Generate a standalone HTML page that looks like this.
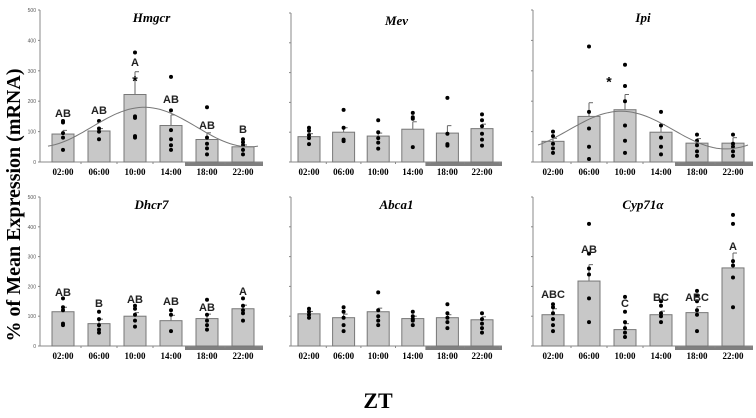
<!DOCTYPE html>
<html><head><meta charset="utf-8"><style>
body{margin:0;background:#fff}svg{display:block}
</style></head><body>
<svg id="c" width="756" height="418" xmlns="http://www.w3.org/2000/svg">
<text x="20" y="205" transform="rotate(-90 20 205)" text-anchor="middle" font-family="Liberation Serif,serif" font-weight="bold" font-size="20">% of Mean Expression (mRNA)</text>
<text x="378" y="408" text-anchor="middle" font-family="Liberation Serif,serif" font-weight="bold" font-size="22">ZT</text>
</svg>
<script>
const categories=["02:00","06:00","10:00","14:00","18:00","22:00"];
const genes=["Hmgcr","Mev","Ipi","Dhcr7","Abca1","Cyp71\u03b1"];
const means=[[92,102,222,120,74,50],[85,100,87,110,97,112],[68,150,172,98,62,62],[115,75,100,85,92,125],[108,95,115,92,95,88],[105,218,55,105,112,262]];
const errs=[[12,8,75,35,22,6],[10,15,10,25,25,15],[10,45,50,25,15,18],[15,15,12,18,15,12],[8,12,12,8,10,10],[20,55,20,12,20,50]];
const letters=[["AB","AB","A","AB","AB","B"],[],[],["AB","B","AB","AB","AB","A"],[],["ABC","AB","C","BC","ABC","A"]];
const letterVals=[[148,158,316,194,108,95],[],[],[168,131,144,138,117,171],[],[161,312,131,151,151,322]];
const points=[
[[40,80,95,130,135],[75,100,110,135],[80,85,145,150,360],[40,55,75,105,170,280],[25,45,60,80,180],[25,40,55,65,75]],
[[60,80,90,105,115],[70,75,115,175],[45,65,80,100,140],[50,145,150,165],[55,60,95,215],[55,75,95,120,140,160]],
[[30,45,60,85,100],[10,50,110,165,380],[30,70,120,200,250,320],[25,50,80,120,165],[20,35,55,70,90],[20,35,50,60,90]],
[[70,75,120,130,160],[45,55,70,90,115],[65,85,105,125,135],[50,105,120],[55,70,85,105,155],[85,110,120,135,160]],
[[95,105,115,125],[50,70,95,115,130],[70,85,100,120,180],[70,85,90,100,115],[60,80,95,110,140],[45,60,75,90,110]],
[[50,70,90,110,130,140],[80,160,240,260,310,410],[30,45,60,80,115,165],[80,100,110,135,150],[50,105,120,150,170,185],[130,230,270,285,410,440]]];
const stars=[[2],[],[2],[],[],[]];
const cosMesor=[115,null,105,null,null,null];
const cosAmp=[65,null,62,null,null,null];
const cosPeak=[11,null,9.5,null,null,null];
const yTicks=[0,100,200,300,400,500];

const svg=document.getElementById('c');const NS="http://www.w3.org/2000/svg";
function mk(t,a,p){const e=document.createElementNS(NS,t);for(const k in a)e.setAttribute(k,a[k]);(p||svg).appendChild(e);return e;}
const panels=[{ax:40,x0:63,dx:36,y0:162,yt:10},{ax:291,x0:309,dx:34.6,y0:162,yt:13},{ax:533,x0:553,dx:36,y0:162,yt:10},
{ax:40,x0:63,dx:36,y0:346,yt:197},{ax:291,x0:309,dx:34.6,y0:346,yt:197},{ax:533,x0:553,dx:36,y0:346,yt:197}];
panels.forEach((P,i)=>{
 const g=mk('g',{});
 
 
 const y=v=>P.y0-(v/500)*(P.y0-P.yt);
 const x=j=>P.x0+j*P.dx;
 const right=x(5)+20;
 const nb=mk('rect',{x:x(4)-22,y:P.y0,width:right-(x(4)-22),height:4,fill:'#7f7f7f'},g);
 
 mk('line',{x1:P.ax,y1:P.y0,x2:right,y2:P.y0,stroke:'#888','stroke-width':1},g);
 const ya=mk('line',{x1:P.ax,y1:P.yt,x2:P.ax,y2:P.y0,stroke:'#888','stroke-width':1},g);
 
 yTicks.forEach(t=>{mk('line',{x1:P.ax-2,y1:y(t),x2:P.ax,y2:y(t),stroke:'#888'},g);
  if(i%3==0){const tl=mk('text',{x:P.ax-4,y:y(t)+2,'text-anchor':'end','font-size':5,'font-family':'Liberation Sans,sans-serif',fill:'#555'},g);tl.textContent=t;
  }});
 const tt=mk('text',{x:(P.ax+right)/2,y:P.yt+12,'text-anchor':'middle','font-family':'Liberation Serif,serif','font-weight':'bold','font-style':'italic','font-size':13},g);
 tt.textContent=genes[i];
 categories.forEach((c,j)=>{
  mk('line',{x1:x(j)+P.dx/2,y1:P.y0,x2:x(j)+P.dx/2,y2:P.y0+2,stroke:'#888'},g);
  const m=means[i][j],e=errs[i][j];
  mk('line',{x1:x(j),y1:y(m),x2:x(j),y2:y(m+e),stroke:'#666'},g);
  mk('line',{x1:x(j),y1:y(m+e),x2:x(j)+4,y2:y(m+e),stroke:'#666'},g);
  const b=mk('rect',{x:x(j)-11,y:y(m),width:22,height:P.y0-y(m),fill:'#c8c8c8',stroke:'#777','stroke-width':1},g);
  
  points[i][j].forEach(v=>{const d=mk('circle',{cx:x(j),cy:y(v),r:2,fill:'#000'},g);
   });
  const xl=mk('text',{x:x(j),y:P.y0+13,'text-anchor':'middle','font-family':'Liberation Serif,serif','font-weight':'bold','font-size':9},g);
  xl.textContent=c;
  const L=letters[i][j];
  if(L){
   const lt=mk('text',{x:x(j),y:y(letterVals[i][j]),'text-anchor':'middle','font-family':'Liberation Sans,sans-serif','font-weight':'bold','font-size':11,fill:'#222'},g);
   lt.textContent=L;}
  if(stars[i].includes(j)){const s=mk('text',{x:x(j)+(i==2?-16:0),y:y(m+e)+(i==2?-8:14),'text-anchor':'middle','font-family':'Liberation Sans,sans-serif','font-weight':'bold','font-size':14},g);
   s.textContent='*';}
 });
 if(cosMesor[i]!==null){let d='';
  for(let k=0;k<=60;k++){const h=k*24/60;const v=cosMesor[i]+cosAmp[i]*Math.cos((h-cosPeak[i])*Math.PI/12);
   const px=x(0)-15+(h/24)*((x(5)+15)-(x(0)-15));d+=(k?'L':'M')+px.toFixed(1)+' '+y(v).toFixed(1);}
  const cv=mk('path',{d:d,fill:'none',stroke:'#777','stroke-width':1},g);
  }
});
</script>
</body></html>
